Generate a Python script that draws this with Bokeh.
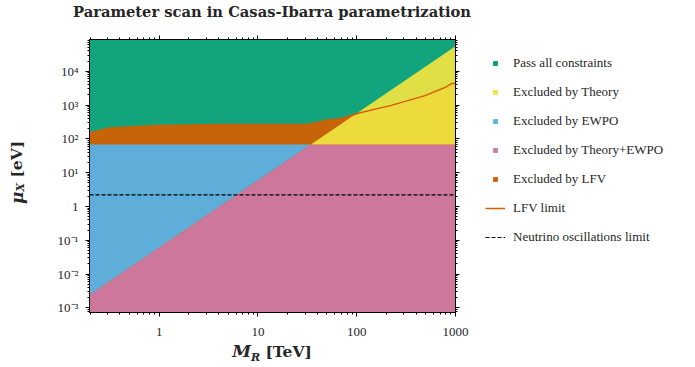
import numpy as np
from bokeh.plotting import figure
from bokeh.models import (LogAxis, FixedTicker, Legend, LegendItem, Div,
                          CustomJSTickFormatter)
from bokeh.layouts import row, column
from bokeh.embed import file_html
from bokeh.resources import INLINE

# ---------------- data ----------------
mr_range = [0.197, 1000.0]          # M_R scan range [TeV]
mux_range = [7.3e-4, 8.7e4]         # mu_X scan range [eV]
theory_mr = [0.197, 1000.0]         # theory bound  (mu_X ~ M_R^2)
theory_mux = [2.4e-3, 5.5e4]
ewpo_mux = 68.0                     # EWPO bound on mu_X [eV]
lfv_mr = [0.197, 0.31, 0.93, 4.4, 31.0, 45.5, 69.0, 108.0, 224.0, 490.0, 780.0, 910.0, 1000.0]
lfv_mux = [157, 221, 260, 279, 279, 349, 392, 590, 980, 1900, 3300, 4300, 4470]
lfv_line_from = 45.0                # LFV limit curve drawn from this M_R on
nu_mux = 2.2                        # neutrino oscillation limit [eV]

x_ticks = [1, 10, 100, 1000]
x_tick_labels = ["1", "10", "100", "1000"]
y_ticks = [0.001, 0.01, 0.1, 1, 10, 100, 1000, 10000]
y_tick_labels = ["10⁻³", "10⁻²", "10⁻¹", "1", "10¹", "10²", "10³", "10⁴"]

categories = ["Pass all constraints", "Excluded by Theory", "Excluded by EWPO",
              "Excluded by Theory+EWPO", "Excluded by LFV"]
colors = ["#009E73", "#F0E442", "#56B4E9", "#CC79A7", "#D55E00"]
lfv_color = "#D55E00"

title_text = "Parameter scan in Casas-Ibarra parametrization"

TXT = "#262626"
SERIF = "Liberation Serif"

# ---------------- main figure ----------------
TITLE_H = 18
YDIV_W = 30
BORDER_L, BORDER_R, BORDER_T, BORDER_B = 59, 14, 21, 34
FRAME_W, FRAME_H = 366, 273
FIG_H = BORDER_T + FRAME_H + BORDER_B
p = figure(frame_width=FRAME_W, frame_height=FRAME_H, x_axis_type="log", y_axis_type="log",
           x_range=tuple(mr_range), y_range=tuple(mux_range),
           output_backend="svg", toolbar_location=None,
           min_border_left=BORDER_L, min_border_right=BORDER_R, min_border_top=BORDER_T,
           min_border_bottom=BORDER_B)
p.grid.visible = False
p.outline_line_color = "black"
p.outline_line_width = 1
p.background_fill_color = "white"
p.border_fill_alpha = 0

# region polygons built from the boundaries
x0, x1 = mr_range
y0, y1 = mux_range
x_cross = 10 ** np.interp(np.log10(ewpo_mux), np.log10(theory_mux), np.log10(theory_mr))
alpha = 0.93

regions = {
    "green": ([x0, x1, x1, x0], [y0, y0, y1, y1], colors[0]),
    "yellow": ([x_cross, x1, x1], [ewpo_mux, theory_mux[1], ewpo_mux], colors[1]),
    "blue": ([x0, x0, x_cross], [theory_mux[0], ewpo_mux, ewpo_mux], colors[2]),
    "pink": ([x0, x0, x_cross, x1, x1], [y0, theory_mux[0], ewpo_mux, ewpo_mux, y0], colors[3]),
    "orange": (lfv_mr + [x1, x0], lfv_mux + [y0, y0], colors[4]),
}
for key in ["green", "orange", "blue", "pink", "yellow"]:
    xs, ys, c = regions[key]
    p.patch(xs, ys, fill_color=c, fill_alpha=alpha, line_color=None)

# LFV limit curve
lx = [x for x in lfv_mr if x >= lfv_line_from]
ly = [y for x, y in zip(lfv_mr, lfv_mux) if x >= lfv_line_from]
p.line(lx, ly, line_color=lfv_color, line_width=1.5)

# neutrino oscillation limit
p.line(mr_range, [nu_mux, nu_mux], line_color="black", line_width=1.1, line_dash="4 2")

# axes
def style_axis(ax, ticks, minor, labels=None):
    ax.ticker = FixedTicker(ticks=ticks, minor_ticks=minor)
    ax.axis_line_color = "black"
    ax.major_tick_line_color = "black"
    ax.minor_tick_line_color = "black"
    ax.major_tick_out = 4
    ax.major_tick_in = 0
    ax.minor_tick_out = 2
    ax.minor_tick_in = 0
    if labels is None:
        ax.formatter = CustomJSTickFormatter(code="return ''")
        ax.major_label_text_font_size = "1px"
        ax.major_label_standoff = 0
    else:
        ax.major_label_overrides = {t: l for t, l in zip(ticks, labels)}
        ax.major_label_text_font = SERIF
        ax.major_label_text_font_size = "13px"
        ax.major_label_text_color = TXT

x_minor = [m * d for d in [0.1, 1, 10, 100] for m in range(2, 10)]
y_minor = [m * d for d in [1e-4, 1e-3, 1e-2, 1e-1, 1, 10, 100, 1e3, 1e4] for m in range(2, 10)]

style_axis(p.xaxis[0], x_ticks, x_minor, x_tick_labels)
style_axis(p.yaxis[0], y_ticks, y_minor, y_tick_labels)
p.xaxis[0].major_label_standoff = 11
p.yaxis[0].major_label_standoff = 7

top = LogAxis()
right = LogAxis()
style_axis(top, x_ticks, x_minor)
style_axis(right, y_ticks, y_minor)
p.add_layout(top, "above")
p.add_layout(right, "right")

# ---------------- legend figure (borders aligned with the main plot) ----------------
LEG_W = 224
LEG_MARGIN = 16
lf = figure(width=LEG_W, height=FIG_H, x_axis_location=None, y_axis_location=None,
            output_backend="svg", toolbar_location=None,
            min_border_left=0, min_border_right=0, min_border_bottom=BORDER_B,
            min_border_top=BORDER_T)
lf.grid.visible = False
lf.outline_line_color = None
lf.background_fill_color = "white"
lf.border_fill_alpha = 0

proxies = []
for key, c in zip(["green", "yellow", "blue", "pink", "orange"], colors):
    xs, ys, _ = regions[key]
    proxies.append(lf.scatter(xs[:1], ys[:1], marker="square", size=5,
                              fill_color=c, line_color=None, visible=False))
proxies.append(lf.line(lx, ly, line_color=lfv_color, line_width=1.5, visible=False))
proxies.append(lf.line(mr_range, [nu_mux, nu_mux], line_color="black", line_width=1.1,
                       line_dash="4 2", visible=False))
labels = categories + ["LFV limit", "Neutrino oscillations limit"]
items = [LegendItem(label=lab, renderers=[r]) for lab, r in zip(labels, proxies)]
legend = Legend(items=items, location="top_left", orientation="vertical",
                border_line_color=None, background_fill_alpha=0, padding=0,
                margin=LEG_MARGIN, glyph_width=20, glyph_height=12, label_height=16,
                spacing=13, label_standoff=8, label_text_font=SERIF,
                label_text_font_size="13px", label_text_color=TXT)
lf.add_layout(legend, "center")

# ---------------- title and axis labels as rich text ----------------
title_html = (
    '<div style="position:relative;width:600px;height:%dpx;overflow:visible;">'
    '<div style="position:absolute;left:0;top:3px;width:544px;text-align:center;white-space:nowrap;'
    "font-family:'DejaVu Serif';font-weight:bold;font-size:14.7px;color:%s;line-height:17px;\">"
    '%s</div></div>' % (TITLE_H, TXT, title_text)
)
ylabel_html = (
    '<div style="position:relative;width:%dpx;height:%dpx;">'
    '<div style="position:absolute;left:0;top:0;width:35px;height:%dpx;display:flex;'
    'align-items:center;justify-content:center;">'
    '<span style="writing-mode:vertical-rl;transform:rotate(180deg);white-space:nowrap;'
    "font-family:'DejaVu Serif';font-weight:bold;font-size:15.5px;color:%s;line-height:1;\">"
    '<i style="font-size:17px;">&mu;</i><sub style="font-size:11px;"><i>X</i></sub>&nbsp;[eV]'
    '</span></div></div>' % (YDIV_W, FIG_H, 2 * (172 - TITLE_H), TXT)
)
xlabel_html = (
    '<div style="position:relative;width:600px;height:20px;">'
    '<div style="position:absolute;left:0;top:-3px;width:544px;text-align:center;white-space:nowrap;'
    "font-family:'DejaVu Serif';font-weight:bold;font-size:15.5px;color:%s;line-height:16px;\">"
    '<i style="font-size:17px;">M</i><sub style="font-size:11px;"><i>R</i></sub>&nbsp;[TeV]'
    '</div></div>' % TXT
)
tdiv = Div(text=title_html, width=600, height=TITLE_H, margin=0, styles={"overflow": "visible"})
ydiv = Div(text=ylabel_html, width=YDIV_W, height=FIG_H, margin=0)
xdiv = Div(text=xlabel_html, width=600, height=20, margin=0, styles={"overflow": "visible"})

layout = column(tdiv, row(ydiv, p, lf, spacing=0), xdiv, spacing=0)

open("out.html", "w").write(file_html(layout, INLINE))
